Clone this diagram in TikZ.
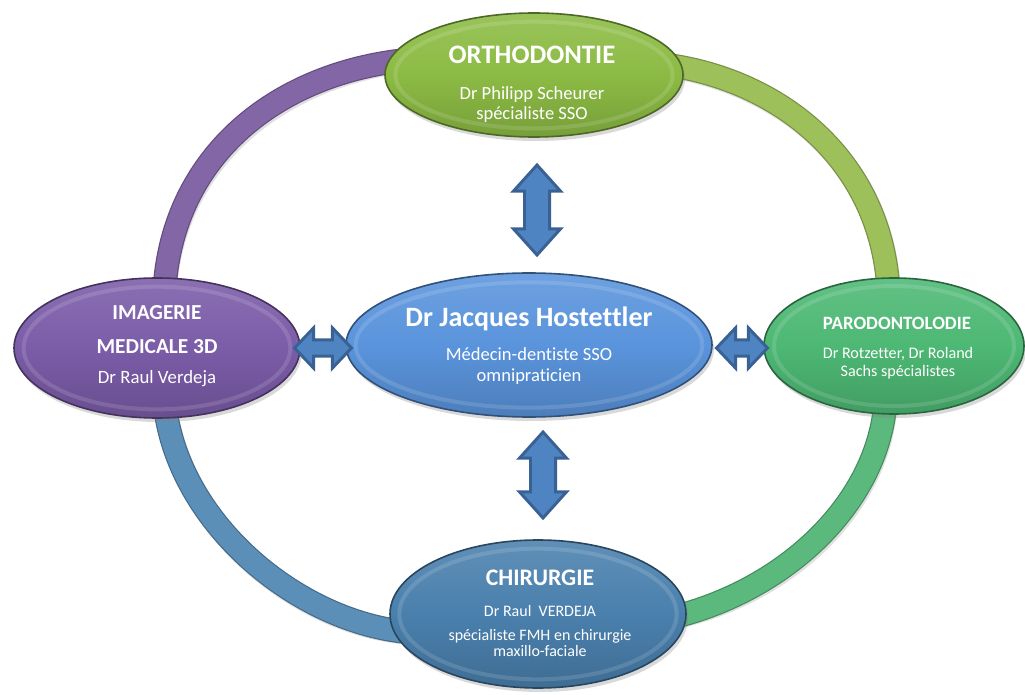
\documentclass[tikz,border=0pt]{standalone}
\usepackage{fontspec}
\setmainfont{Carlito}[Ligatures=NoCommon]
\usetikzlibrary{shapes.geometric,shapes.arrows,calc,shadows}
\definecolor{ringP}{HTML}{8366A6}
\definecolor{ringG}{HTML}{9DC05A}
\definecolor{ringE}{HTML}{5BB97D}
\definecolor{ringB}{HTML}{5C8FB8}
\definecolor{cOrtho}{HTML}{8CBB44}
\definecolor{cImag}{HTML}{7B5CA8}
\definecolor{cCent}{HTML}{5A94DC}
\definecolor{cParo}{HTML}{4DB874}
\definecolor{cChir}{HTML}{4A80AD}
\definecolor{arrDark}{HTML}{3A6193}
\definecolor{arrFill}{HTML}{4F84C2}
\begin{document}
\begin{tikzpicture}[x=0.75pt,y=-0.75pt,
  ringshadow/.style={line width=18pt, black, opacity=0.12, line cap=butt},
  ringdark/.style={line width=18pt, #1!75!black, line cap=butt},
  ringmain/.style={line width=16.2pt, #1, line cap=butt},
  bubble/.style={ellipse, inner sep=0pt, line width=1.2pt, draw=#1!55!black,
     top color=#1!88!white, bottom color=#1!85!black, middle color=#1,
     drop shadow={opacity=0.3, shadow xshift=1.5pt, shadow yshift=-3pt}},
  rim/.style={draw=white, opacity=0.13, line width=3pt},
  ttl/.style={text=white, font=\bfseries, anchor=base, inner sep=0pt},
  sub/.style={text=white, anchor=base, inner sep=0pt},
  dblarr/.style={double arrow, draw=arrDark, fill=arrFill, line width=2.2pt,
     inner xsep=0pt}
]
\useasboundingbox (0,0) rectangle (1025,695);

% ring segments
\coordinate (r1a) at (440,58);  \coordinate (r1b) at (164,305);
\coordinate (r2a) at (630,62);  \coordinate (r2b) at (889,305);
\coordinate (r3a) at (886,385); \coordinate (r3b) at (650,622);
\coordinate (r4a) at (164,395); \coordinate (r4b) at (430,633);
\begin{scope}[shift={(2,3)}]
  \draw[ringshadow] (r1a) .. controls (290,60) and (165,150) .. (r1b);
  \draw[ringshadow] (r2a) .. controls (760,64) and (888,150) .. (r2b);
  \draw[ringshadow] (r3a) .. controls (888,500) and (780,600) .. (r3b);
  \draw[ringshadow] (r4a) .. controls (172,525) and (310,635) .. (r4b);
\end{scope}
\draw[ringdark=ringP] (r1a) .. controls (290,60) and (165,150) .. (r1b);
\draw[ringmain=ringP] (r1a) .. controls (290,60) and (165,150) .. (r1b);
\draw[ringdark=ringG] (r2a) .. controls (760,64) and (888,150) .. (r2b);
\draw[ringmain=ringG] (r2a) .. controls (760,64) and (888,150) .. (r2b);
\draw[ringdark=ringE] (r3a) .. controls (888,500) and (780,600) .. (r3b);
\draw[ringmain=ringE] (r3a) .. controls (888,500) and (780,600) .. (r3b);
\draw[ringdark=ringB] (r4a) .. controls (172,525) and (310,635) .. (r4b);
\draw[ringmain=ringB] (r4a) .. controls (172,525) and (310,635) .. (r4b);

% bubbles
\node[bubble=cOrtho, minimum width=223.5pt, minimum height=93pt] (ortho) at (534,75) {};
\node[bubble=cImag, minimum width=214.5pt, minimum height=105pt] (imag) at (157,348) {};
\node[bubble=cCent, minimum width=274.5pt, minimum height=108pt] (cent) at (529,345) {};
\node[bubble=cParo, minimum width=195pt, minimum height=102pt] (paro) at (894,346) {};
\node[bubble=cChir, minimum width=222pt, minimum height=111pt] (chir) at (538,614) {};

\draw[rim] (ortho.center) ellipse [x radius=104pt, y radius=40pt];
\draw[rim] (imag.center) ellipse [x radius=100pt, y radius=46pt];
\draw[rim] (cent.center) ellipse [x radius=130pt, y radius=47pt];
\draw[rim] (paro.center) ellipse [x radius=90pt, y radius=45pt];
\draw[rim] (chir.center) ellipse [x radius=104pt, y radius=49pt];

% texts
\node[ttl, font=\fontsize{20}{23}\selectfont\bfseries] (orthoT) at (532,63.5) {ORTHODONTIE};
\node[sub, font=\fontsize{13.9}{16}\selectfont] (orthoS1) at (532,99.5) {Dr Philipp Scheurer};
\node[sub, font=\fontsize{13.9}{16}\selectfont] (orthoS2) at (532,119.5) {spécialiste SSO};

\node[ttl, font=\fontsize{16}{19}\selectfont\bfseries] (imagT1) at (157,320) {IMAGERIE};
\node[ttl, font=\fontsize{16}{19}\selectfont\bfseries] (imagT2) at (157,353.5) {MEDICALE 3D};
\node[sub, font=\fontsize{14.1}{17}\selectfont] (imagS) at (157,383) {Dr Raul Verdeja};

\node[ttl, font=\fontsize{21}{24}\selectfont\bfseries] (centT) at (529,326.7) {Dr Jacques Hostettler};
\node[sub, font=\fontsize{13.9}{16}\selectfont] (centS1) at (529,360.7) {Médecin-dentiste SSO};
\node[sub, font=\fontsize{13.9}{16}\selectfont] (centS2) at (529,381.7) {omnipraticien};

\node[ttl, font=\fontsize{14.1}{17}\selectfont\bfseries] (paroT) at (897,330) {PARODONTOLODIE};
\node[sub, font=\fontsize{12.1}{14}\selectfont] (paroS1) at (898,358.3) {Dr Rotzetter, Dr Roland};
\node[sub, font=\fontsize{12.1}{14}\selectfont] (paroS2) at (898,376.7) {Sachs spécialistes};

\node[ttl, font=\fontsize{17.8}{21}\selectfont\bfseries] (chirT) at (540,585) {CHIRURGIE};
\node[sub, font=\fontsize{12}{14}\selectfont] (chirS1) at (540,616) {Dr Raul\ \ VERDEJA};
\node[sub, font=\fontsize{12}{14}\selectfont] (chirS2) at (540,640) {spécialiste FMH en chirurgie};
\node[sub, font=\fontsize{12}{14}\selectfont] (chirS3) at (540,656.5) {maxillo-faciale};

% double arrows
\node[dblarr, rotate=90, minimum height=67.5pt, inner ysep=8.3pt,
      double arrow head extend=8.25pt, double arrow tip angle=84] (aTop) at (537,210) {};
\node[dblarr, rotate=90, minimum height=64.5pt, inner ysep=8.3pt,
      double arrow head extend=8.25pt, double arrow tip angle=84] (aBot) at (543,475) {};
\node[dblarr, minimum height=42.75pt, inner ysep=5pt,
      double arrow head extend=9pt, double arrow tip angle=93] (aLeft) at (323,348) {};
\node[dblarr, minimum height=38.25pt, inner ysep=5pt,
      double arrow head extend=9pt, double arrow tip angle=93] (aRight) at (742,348) {};
\end{tikzpicture}
\end{document}
